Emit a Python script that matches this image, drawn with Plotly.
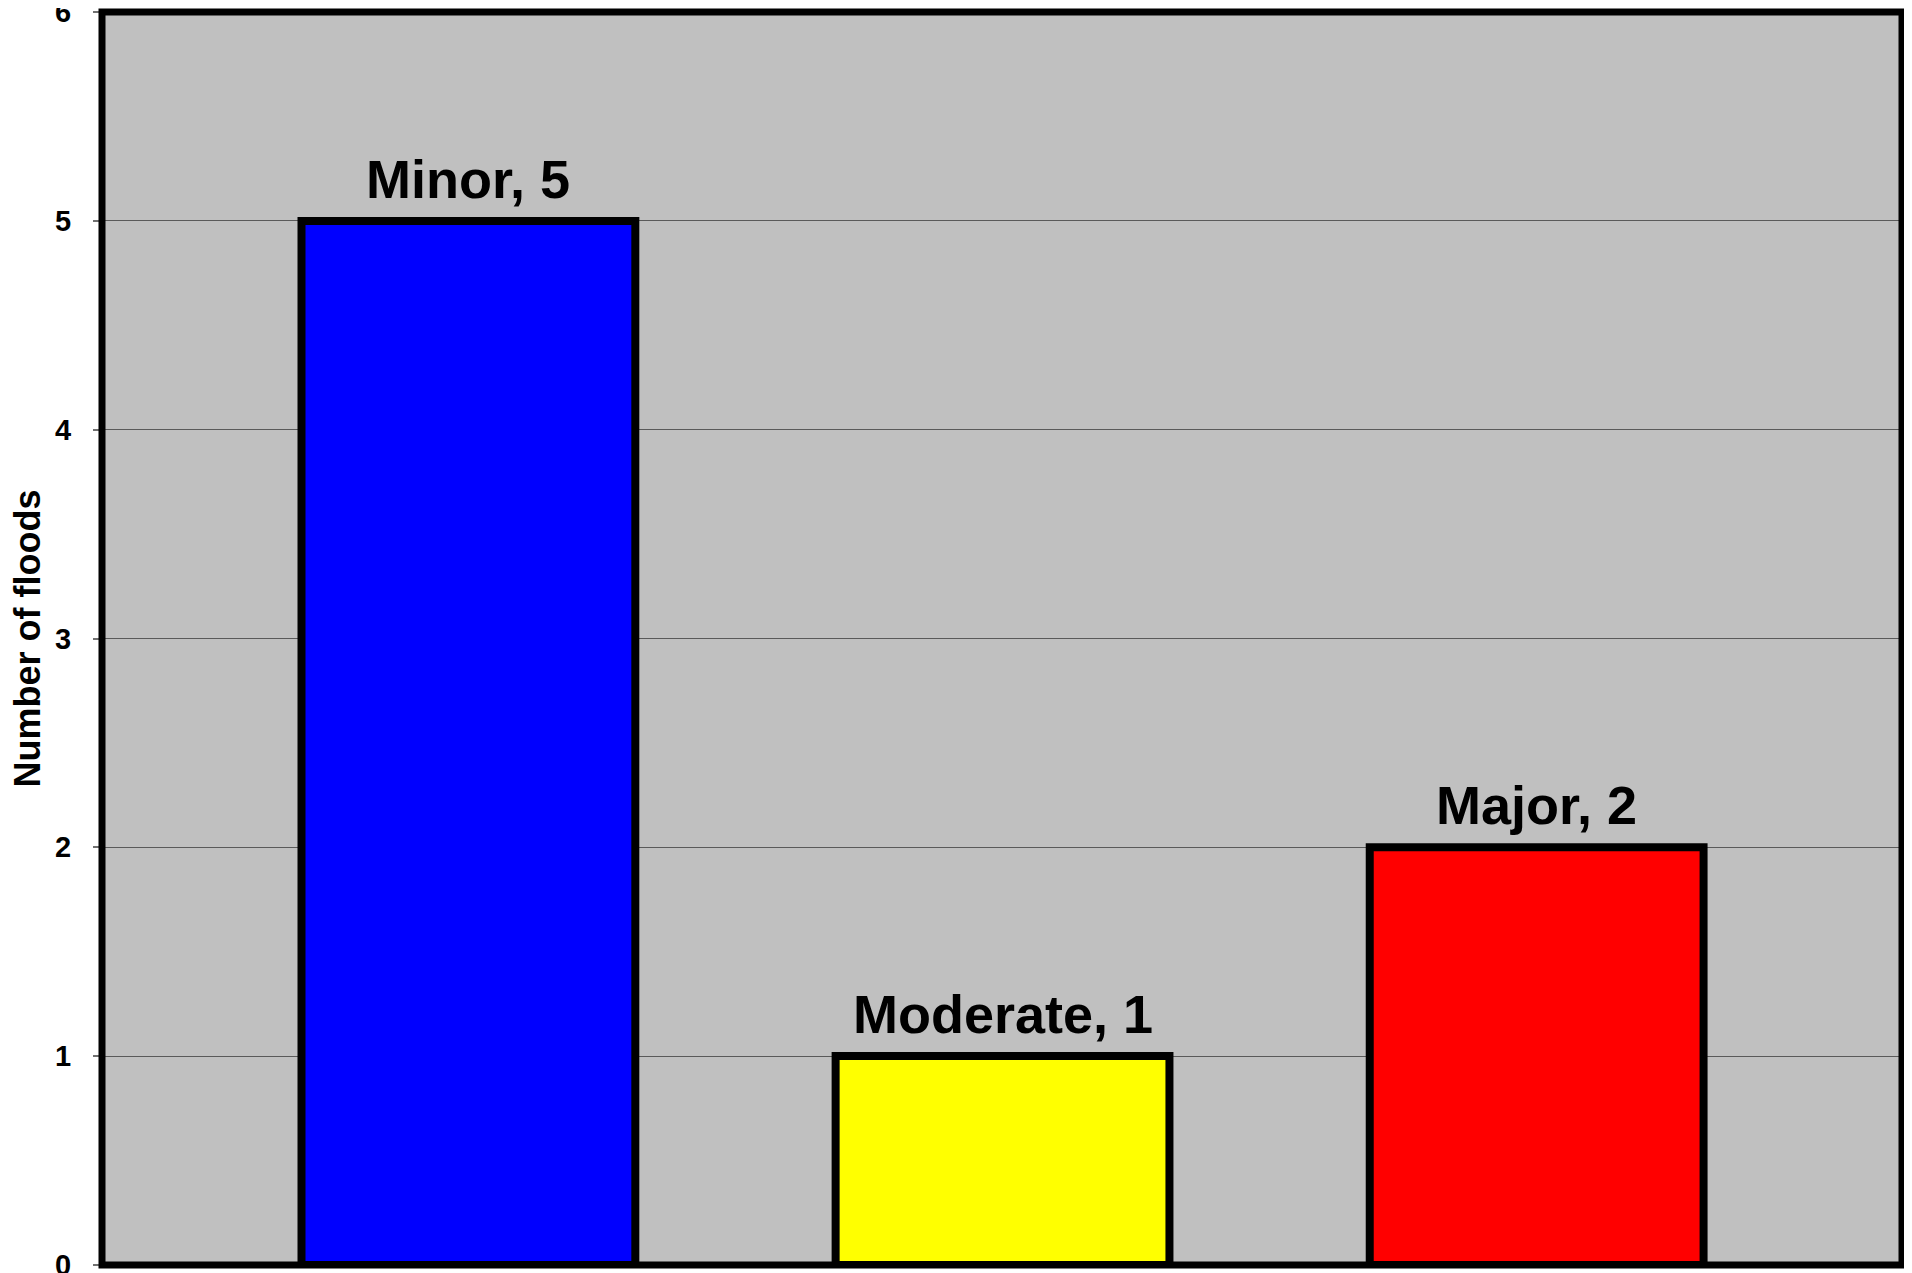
import plotly.graph_objects as go

categories = ["Minor", "Moderate", "Major"]
counts = [5, 1, 2]
bar_colors = ["#0000FF", "#FFFF00", "#FF0000"]
y_ticks = [0, 1, 2, 3, 4, 5, 6]
y_title = "Number of floods"

# page body adds an 8px offset, so the figure is sized to fit inside the window
W, H = 1904, 1265
ml, mr, mt, mb = 94, 10, 4, 8

fig = go.Figure()
fig.add_trace(go.Bar(
    x=categories,
    y=counts,
    width=0.625,
    marker=dict(color=bar_colors, line=dict(color="black", width=8)),
    hoverinfo="skip",
))

label_font = dict(family="Liberation Sans, Arial", size=54, color="black", weight="bold")
annotations = [
    dict(x=c, y=v, xref="x", yref="y", text=f"{c}, {v}", showarrow=False,
         xanchor="center", yanchor="bottom", yshift=10, font=label_font)
    for c, v in zip(categories, counts)
]
annotations.append(dict(
    text=y_title, xref="paper", yref="paper",
    x=(19 - ml) / (W - ml - mr), y=0.5,
    xanchor="center", yanchor="middle", textangle=-90, showarrow=False,
    borderpad=0,
    font=dict(family="Liberation Sans, Arial", size=36, color="black", weight="bold"),
))

fig.update_layout(
    width=W, height=H,
    margin=dict(l=ml, r=mr, t=mt, b=mb, pad=0, autoexpand=False),
    paper_bgcolor="white",
    plot_bgcolor="#C0C0C0",
    showlegend=False,
    font=dict(family="Liberation Sans, Arial", color="black"),
    xaxis=dict(
        type="category",
        range=[-0.686, 2.684],
        showticklabels=False,
        showgrid=False,
        zeroline=False,
        ticks="",
        showline=False,
        automargin=False,
    ),
    yaxis=dict(
        range=[-0.0005, 6.0005],
        tickmode="array",
        tickvals=y_ticks,
        ticktext=[str(v) for v in y_ticks],
        showgrid=True,
        gridcolor="#5a5a5a",
        gridwidth=1,
        zeroline=False,
        ticks="outside",
        ticklen=8,
        tickwidth=2,
        tickcolor="#707070",
        ticklabelstandoff=16,
        ticklabeloverflow="allow",
        automargin=False,
        tickfont=dict(family="Liberation Sans, Arial", size=29, color="black", weight="bold"),
        showline=False,
    ),
    shapes=[dict(
        type="rect", xref="paper", yref="paper", x0=0, x1=1, y0=0, y1=1,
        line=dict(color="black", width=7), layer="above",
    )],
    annotations=annotations,
)

fig.write_html("out.html")
